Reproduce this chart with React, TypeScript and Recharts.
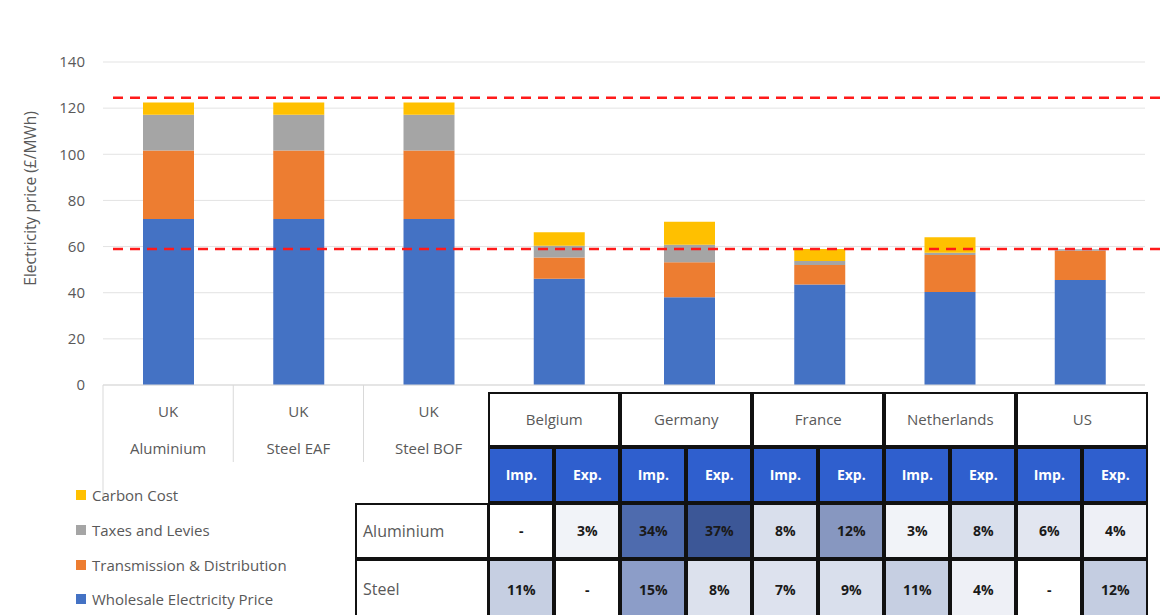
import React from 'react';
import { BarChart, Bar, XAxis, YAxis, CartesianGrid, ReferenceLine, Legend } from 'recharts';

const categories = ['UK Aluminium', 'UK Steel EAF', 'UK Steel BOF', 'Belgium', 'Germany', 'France', 'Netherlands', 'US'];
const labelLine1 = ['UK', 'UK', 'UK', '', '', '', '', ''];
const labelLine2 = ['Aluminium', 'Steel EAF', 'Steel BOF', '', '', '', '', ''];
const wholesale = [72, 72, 72, 46.1, 38, 43.6, 40.3, 45.5];
const transmission = [29.6, 29.6, 29.6, 9.2, 15.2, 8.4, 16, 12.7];
const taxes = [15.5, 15.5, 15.5, 5.1, 7.6, 1.7, 1, 0.6];
const carbon = [5.3, 5.3, 5.3, 5.8, 10, 5.3, 6.7, 0];
const refLines = [124.5, 59];
const yTicks = [0, 20, 40, 60, 80, 100, 120, 140];
const yTitle = 'Electricity price (£/MWh)';

const seriesNames = ['Wholesale Electricity Price', 'Transmission & Distribution', 'Taxes and Levies', 'Carbon Cost'];
const seriesColors = ['#4472C4', '#ED7D31', '#A5A5A5', '#FFC000'];

const countries = ['Belgium', 'Germany', 'France', 'Netherlands', 'US'];
const subHeads = ['Imp.', 'Exp.'];
const rowLabels = ['Aluminium', 'Steel'];
const aluminiumShares = ['-', '3%', '34%', '37%', '8%', '12%', '3%', '8%', '6%', '4%'];
const steelShares = ['11%', '-', '15%', '8%', '7%', '9%', '11%', '4%', '-', '12%'];
const aluminiumColors = ['#FFFFFF', '#F1F3F8', '#4E6BAE', '#3C5797', '#D9DFEC', '#8797C0', '#F1F3F8', '#D9DFEC', '#E2E6F0', '#EEF0F6'];
const steelColors = ['#C6CFE2', '#FFFFFF', '#8C9DC8', '#DCE1ED', '#DDE2EE', '#D9DFEC', '#C6CFE2', '#EEF0F6', '#FFFFFF', '#C4CDE1'];

const data = categories.map((c, i) => ({
  name: c,
  wholesale: wholesale[i],
  transmission: transmission[i],
  taxes: taxes[i],
  carbon: carbon[i],
}));

const keys = ['wholesale', 'transmission', 'taxes', 'carbon'];

const W = 1169;
const H = 615;
const M = { top: 62, right: 24, left: 0, bottom: 0 };
const Y_W = 103;
const X_H = 230;
const FONT = '"Open Sans", "Noto Sans", sans-serif';
const GREY = '#595959';
const band = (W - M.right - Y_W) / categories.length;

const XTick = (props: any) => {
  const { x, y, payload } = props;
  const i = payload.index;
  if (i > 2) return null;
  const left = x - band / 2;
  return (
    <g>
      <line x1={left} x2={left} y1={y - 8} y2={i === 0 ? y + 105 : y + 69} stroke="#D9D9D9" strokeWidth={1} />
      <text x={x} y={y + 24} textAnchor="middle" fill={GREY} fontSize={15} fontFamily={FONT}>{labelLine1[i]}</text>
      <text x={x} y={y + 61} textAnchor="middle" fill={GREY} fontSize={15} fontFamily={FONT}>{labelLine2[i]}</text>
    </g>
  );
};

const YTitle = (props: any) => {
  const vb = props.viewBox || {};
  const cx = (vb.x ?? 0) + 30;
  const cy = (vb.y ?? 0) + (vb.height ?? 0) / 2 - 25;
  return (
    <text x={cx} y={cy} transform={`rotate(-90 ${cx} ${cy})`} textAnchor="middle" dominantBaseline="central" fill={GREY} fontSize={15.5} fontFamily={FONT}>{yTitle}</text>
  );
};

const RefShape = (props: any) => {
  const { x1, y1, x2, y2 } = props;
  return <line x1={x1 + 10} y1={y1} x2={x2 + 20} y2={y2} stroke="#FF1A1A" strokeWidth={2.5} strokeDasharray="10 7" />;
};

const LegendContent = () => (
  <div style={{ position: 'relative', height: 0, width: 0 }}>
    <div style={{ position: 'absolute', left: 0, top: 0, width: 270, fontFamily: FONT }}>
      {[3, 2, 1, 0].map((k) => (
        <div key={k} style={{ display: 'flex', alignItems: 'center', height: 34.7, color: GREY, fontSize: 15 }}>
          <span style={{ display: 'inline-block', width: 10, height: 10, background: seriesColors[k], marginRight: 6 }} />
          <span>{seriesNames[k]}</span>
        </div>
      ))}
    </div>
  </div>
);

const colLeft = 488.3;
const colW = 66;
const rowY = [391.7, 446.7, 502.7, 559, 615];
const border = '2px solid #111';

const Table = () => {
  const cells: React.ReactNode[] = [];
  countries.forEach((c, i) => {
    cells.push(
      <div key={'c' + i} style={{ position: 'absolute', left: colLeft + i * colW * 2, top: rowY[0], width: colW * 2, height: rowY[1] - rowY[0], border, boxSizing: 'border-box', display: 'flex', alignItems: 'center', justifyContent: 'center', color: GREY, fontSize: 15, background: '#fff' }}>{c}</div>
    );
  });
  for (let j = 0; j < 10; j++) {
    cells.push(
      <div key={'h' + j} style={{ position: 'absolute', left: colLeft + j * colW, top: rowY[1], width: colW, height: rowY[2] - rowY[1], border, boxSizing: 'border-box', display: 'flex', alignItems: 'center', justifyContent: 'center', color: '#fff', fontWeight: 700, fontSize: 14, background: '#2F5FCE' }}>{subHeads[j % 2]}</div>
    );
  }
  const rows = [aluminiumShares, steelShares];
  const rowCols = [aluminiumColors, steelColors];
  rows.forEach((r, ri) => {
    cells.push(
      <div key={'l' + ri} style={{ position: 'absolute', left: 355, top: rowY[ri + 2], width: colLeft - 355 + 1, height: rowY[ri + 3] - rowY[ri + 2] + (ri === 1 ? 4 : 0), border, boxSizing: 'border-box', display: 'flex', alignItems: 'center', paddingLeft: 6, color: GREY, fontSize: 16, background: '#fff' }}>{rowLabels[ri]}</div>
    );
    r.forEach((v, j) => {
      cells.push(
        <div key={'v' + ri + j} style={{ position: 'absolute', left: colLeft + j * colW, top: rowY[ri + 2], width: colW, height: rowY[ri + 3] - rowY[ri + 2] + (ri === 1 ? 4 : 0), border, boxSizing: 'border-box', display: 'flex', alignItems: 'center', justifyContent: 'center', color: '#1a1a1a', fontWeight: 700, fontSize: 14, background: rowCols[ri][j] }}>{v}</div>
      );
    });
  });
  return <>{cells}</>;
};

export default function App() {
  return (
    <div style={{ position: 'absolute', left: 0, top: 0, width: W, height: H, overflow: 'hidden', background: '#fff', fontFamily: FONT }}>
      <BarChart width={W} height={H} data={data} margin={M} barSize={51}>
        <CartesianGrid vertical={false} stroke="#E3E3E3" />
        <XAxis dataKey="name" height={X_H} tick={<XTick />} tickLine={false} axisLine={{ stroke: '#D9D9D9' }} interval={0} />
        <YAxis
          width={Y_W}
          domain={[0, 140]}
          ticks={yTicks}
          tickLine={false}
          axisLine={false}
          tick={{ fill: GREY, fontSize: 15, fontFamily: FONT }}
          tickMargin={12}
          label={<YTitle />}
        />
        {keys.map((k, i) => (
          <Bar key={k} dataKey={k} stackId="a" fill={seriesColors[i]} name={seriesNames[i]} isAnimationActive={false} />
        ))}
        {refLines.map((v) => (
          <ReferenceLine key={v} y={v} shape={<RefShape />} />
        ))}
        <Legend content={<LegendContent />} wrapperStyle={{ position: 'absolute', left: 76, top: 478, width: 0, height: 0 }} />
      </BarChart>
      <Table />
    </div>
  );
}
